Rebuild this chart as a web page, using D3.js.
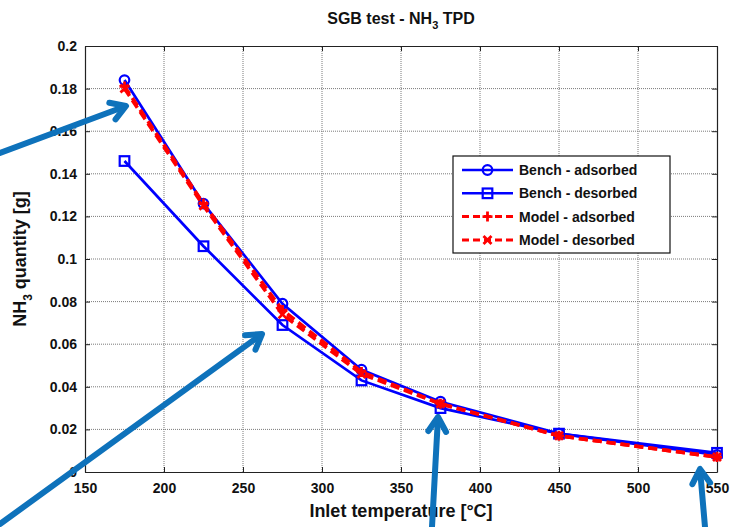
<!DOCTYPE html>
<html>
<head>
<meta charset="utf-8">
<script src="https://cdn.jsdelivr.net/npm/d3@7"></script>
<style>
  body { margin: 0; background: #fff; }
  svg text { font-family: "Liberation Sans", Arial, sans-serif; font-weight: 700; fill: #111; }
</style>
</head>
<body>
<div class="js-d3"></div>
<script>
// data
const temps = [175, 225, 275, 325, 375, 450, 550];
const benchAdsorbed = [0.184, 0.126, 0.079, 0.048, 0.033, 0.018, 0.008];
const benchDesorbed = [0.146, 0.106, 0.069, 0.043, 0.030, 0.018, 0.009];
const modelAdsorbed = [0.181, 0.126, 0.076, 0.047, 0.032, 0.017, 0.007];
const modelDesorbed = [0.180, 0.125, 0.074, 0.046, 0.032, 0.017, 0.007];
const xTicks = [150, 200, 250, 300, 350, 400, 450, 500, 550];
const yTicks = [0, 0.02, 0.04, 0.06, 0.08, 0.1, 0.12, 0.14, 0.16, 0.18, 0.2];
const seriesNames = ["Bench - adsorbed", "Bench - desorbed", "Model - adsorbed", "Model - desorbed"];

const width = 730;
const height = 527;
const margin = { top: 46, right: 13, bottom: 55, left: 85 };

const svg = d3
  .select(".js-d3")
  .append("svg")
  .attr("width", width)
  .attr("height", height);

const x = d3.scaleLinear().domain([150, 550]).range([margin.left, width - margin.right]);
const y = d3.scaleLinear().domain([0, 0.2]).range([height - margin.bottom, margin.top]);

const x0 = x.range()[0], x1 = x.range()[1];
const y0 = y.range()[0], y1 = y.range()[1];

// grid
const grid = svg.append("g").attr("stroke", "#7a7a7a").attr("stroke-width", 1).attr("stroke-dasharray", "1,1");
xTicks.slice(1, -1).forEach((t) => {
  grid.append("line").attr("x1", x(t)).attr("x2", x(t)).attr("y1", y0).attr("y2", y1);
});
yTicks.slice(1, -1).forEach((t) => {
  grid.append("line").attr("x1", x0).attr("x2", x1).attr("y1", y(t)).attr("y2", y(t));
});

// axes (inward ticks, MATLAB style)
const fmt = (d) => (d === 0 ? "0" : String(+d.toFixed(2)));

const xAxis = svg
  .append("g")
  .attr("transform", `translate(0,${y0})`)
  .call(d3.axisBottom(x).tickValues(xTicks).tickSizeInner(-5).tickSizeOuter(0).tickPadding(11).tickFormat(d3.format("d")));
const yAxis = svg
  .append("g")
  .attr("transform", `translate(${x0},0)`)
  .call(d3.axisLeft(y).tickValues(yTicks).tickSizeInner(-5).tickSizeOuter(0).tickPadding(8).tickFormat(fmt));
svg
  .append("g")
  .attr("transform", `translate(0,${y1})`)
  .call(d3.axisTop(x).tickValues(xTicks).tickSizeInner(-5).tickSizeOuter(0).tickFormat(""));
svg
  .append("g")
  .attr("transform", `translate(${x1},0)`)
  .call(d3.axisRight(y).tickValues(yTicks).tickSizeInner(-5).tickSizeOuter(0).tickFormat(""));

svg.selectAll(".domain").attr("stroke", "#222").attr("stroke-width", 1.2);
svg.selectAll(".tick line").attr("stroke", "#222");
[xAxis, yAxis].forEach((a) => a.attr("font-size", 14).selectAll("text").attr("fill", "#111"));

// series
const series = [
  { name: seriesNames[0], values: benchAdsorbed, color: "#0000ff", dash: null, marker: "circle" },
  { name: seriesNames[1], values: benchDesorbed, color: "#0000ff", dash: null, marker: "square" },
  { name: seriesNames[2], values: modelAdsorbed, color: "#ff0000", dash: "9,5", marker: "plus" },
  { name: seriesNames[3], values: modelDesorbed, color: "#ff0000", dash: "9,5", marker: "cross" },
];

const line = d3
  .line()
  .x((d) => x(d[0]))
  .y((d) => y(d[1]));

const drawMarker = (g, kind, cx, cy, color) => {
  if (kind === "circle") {
    g.append("circle").attr("cx", cx).attr("cy", cy).attr("r", 4.8).attr("fill", "none").attr("stroke", color).attr("stroke-width", 2.2);
  } else if (kind === "square") {
    g.append("rect").attr("x", cx - 4.8).attr("y", cy - 4.8).attr("width", 9.6).attr("height", 9.6).attr("fill", "none").attr("stroke", color).attr("stroke-width", 2.2);
  } else if (kind === "plus") {
    g.append("path").attr("d", `M${cx - 5},${cy}H${cx + 5}M${cx},${cy - 5}V${cy + 5}`).attr("stroke", color).attr("stroke-width", 2.8);
  } else {
    g.append("path").attr("d", `M${cx - 4},${cy - 4}L${cx + 4},${cy + 4}M${cx - 4},${cy + 4}L${cx + 4},${cy - 4}`).attr("stroke", color).attr("stroke-width", 2.8);
  }
};

series.forEach((s) => {
  const pts = temps.map((t, i) => [t, s.values[i]]);
  const g = svg.append("g");
  g.append("path")
    .datum(pts)
    .attr("d", line)
    .attr("fill", "none")
    .attr("stroke", s.color)
    .attr("stroke-width", s.dash ? 3.6 : 2.7)
    .attr("stroke-dasharray", s.dash);
  pts.forEach((p) => drawMarker(g, s.marker, x(p[0]), y(p[1]), s.color));
});

// legend
const legend = svg.append("g").attr("transform", "translate(453,156)");
legend.append("rect").attr("width", 217).attr("height", 97).attr("fill", "#fff").attr("stroke", "#111").attr("stroke-width", 1.2);
series.forEach((s, i) => {
  const ly = 14 + i * 23.3;
  legend.append("line").attr("x1", 9).attr("x2", 60).attr("y1", ly).attr("y2", ly)
    .attr("stroke", s.color).attr("stroke-width", s.dash ? 3 : 2.5).attr("stroke-dasharray", s.dash ? "7,4" : null);
  drawMarker(legend, s.marker, 34.5, ly, s.color);
  legend.append("text").attr("x", 66).attr("y", ly + 5).attr("font-size", 14).text(s.name);
});

// title and axis labels
const title = svg.append("text").attr("x", (x0 + x1) / 2).attr("y", 24).attr("text-anchor", "middle").attr("font-size", 16);
title.append("tspan").text("SGB test - NH");
title.append("tspan").attr("font-size", 11).attr("dy", 5).text("3");
title.append("tspan").attr("dy", -5).text(" TPD");

svg.append("text").attr("x", (x0 + x1) / 2).attr("y", 517).attr("text-anchor", "middle").attr("font-size", 18).text("Inlet temperature [°C]");

const ylab = svg.append("text").attr("transform", `translate(26,${(y0 + y1) / 2}) rotate(-90)`).attr("text-anchor", "middle").attr("font-size", 18);
ylab.append("tspan").text("NH");
ylab.append("tspan").attr("font-size", 12).attr("dy", 6).text("3");
ylab.append("tspan").attr("dy", -6).text(" quantity [g]");

// annotation arrows
const arrows = [
  [[0, 153], [126, 106]],
  [[0, 524], [262, 334]],
  [[432, 527], [438, 417]],
  [[705, 527], [700, 469]],
];
const arrowColor = "#0e72bb";
arrows.forEach(([a, b]) => {
  const ang = Math.atan2(b[1] - a[1], b[0] - a[0]);
  const len = 17;
  const spread = 0.55;
  const p1 = [b[0] - len * Math.cos(ang - spread), b[1] - len * Math.sin(ang - spread)];
  const p2 = [b[0] - len * Math.cos(ang + spread), b[1] - len * Math.sin(ang + spread)];
  const g = svg.append("g").attr("stroke", arrowColor).attr("stroke-width", 6).attr("stroke-linecap", "round").attr("stroke-linejoin", "round").attr("fill", "none");
  g.append("line").attr("x1", a[0]).attr("y1", a[1]).attr("x2", b[0] - 2 * Math.cos(ang)).attr("y2", b[1] - 2 * Math.sin(ang));
  g.append("path").attr("d", `M${p1[0]},${p1[1]}L${b[0]},${b[1]}L${p2[0]},${p2[1]}`);
});
</script>
</body>
</html>
